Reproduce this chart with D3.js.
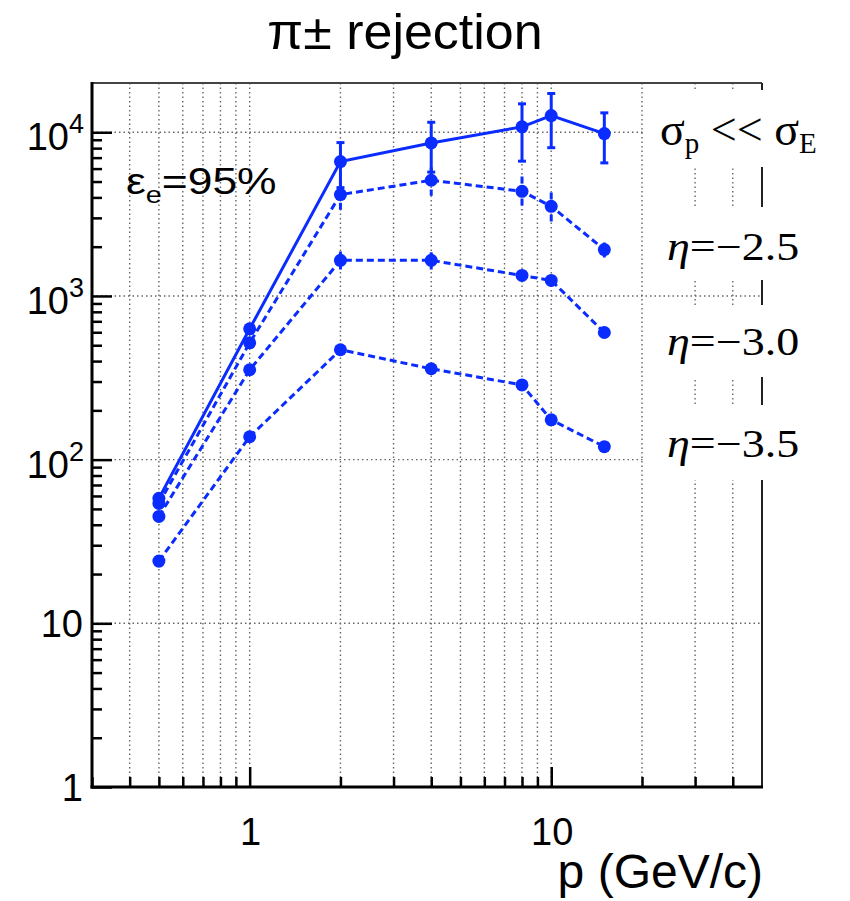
<!DOCTYPE html>
<html><head><meta charset="utf-8">
<script src="https://cdn.jsdelivr.net/npm/d3@7"></script>
<style>html,body{margin:0;padding:0;background:#fff;}svg{display:block;}</style>
</head><body>
<svg id="chart" width="850" height="901"></svg>
<script>
// ---- data ----
const momenta = [0.5, 1, 2, 4, 8, 10, 15];
const sigmaPValues = [58, 630, 6620, 8610, 10790, 12650, 9820];
const sigmaPErrors = [5, 40, 2030, 2900, 4130, 4600, 3320];
const eta25Values = [54, 517, 4160, 5090, 4360, 3530, 1920];
const eta25Errors = [4, 30, 900, 1000, 1000, 750, 200];
const eta30Values = [45, 354, 1650, 1650, 1334, 1244, 598];
const eta30Errors = [3, 20, 220, 200, 100, 100, 40];
const eta35Values = [24, 138, 469, 359, 286, 175, 120];
const eta35Errors = [2, 8, 30, 15, 15, 10, 8];
const xMajorTicks = [1, 10];
const xTickLabels = ["1", "10"];
const yMajorTicks = [1, 10, 100, 1000, 10000];
const yTickExponents = [null, null, 2, 3, 4];
const titleText = "π± rejection";
const xAxisTitle = "p (GeV/c)";
const effLabel = ["ε", "e", "=95%"];
const seriesLabels = ["η=−2.5", "η=−3.0", "η=−3.5"];

const blue = "#0a2cff";
const svg = d3.select("#chart");
const L = 92, R = 762, T = 83, B = 787;
const x = d3.scaleLog().domain([0.3, 50]).range([L, R]);
const y = d3.scaleLog().domain([1, 20000]).range([B, T]);

// minor tick values
const xMinor = [];
[0.1, 1, 10].forEach(d => { for (let k = 2; k <= 9; k++) { const v = d * k; if (v > 0.3 && v < 50) xMinor.push(v); } });
const yMinor = [];
[1, 10, 100, 1000, 10000].forEach(d => { for (let k = 2; k <= 9; k++) { const v = d * k; if (v < 20000) yMinor.push(v); } });

// grid
const grid = svg.append("g").attr("stroke", "#666").attr("stroke-width", 1.4).attr("stroke-dasharray", "1.5,3");
xMinor.concat(xMajorTicks).forEach(v => {
  grid.append("line").attr("x1", x(v)).attr("x2", x(v)).attr("y1", T).attr("y2", B);
});
yMajorTicks.slice(1).forEach(v => {
  grid.append("line").attr("x1", L).attr("x2", R).attr("y1", y(v)).attr("y2", y(v));
});

// frame top/right
svg.append("line").attr("x1", L).attr("x2", R).attr("y1", T).attr("y2", T).attr("stroke", "#444").attr("stroke-width", 2);
svg.append("line").attr("x1", R).attr("x2", R).attr("y1", T).attr("y2", B).attr("stroke", "#222").attr("stroke-width", 2);

// axes using d3 axes (ticks inside)
function styleAxis(g) { g.select(".domain").remove(); g.selectAll("text").remove(); g.selectAll("line").attr("stroke", "#000").attr("stroke-width", 2.5); }
svg.append("g").attr("transform", `translate(${L},0)`).call(d3.axisRight(y).tickValues(yMajorTicks).tickSize(20).tickFormat("")).call(styleAxis);
svg.append("g").attr("transform", `translate(${L},0)`).call(d3.axisRight(y).tickValues(yMinor).tickSize(10).tickFormat("")).call(styleAxis);
svg.append("g").attr("transform", `translate(0,${B})`).call(d3.axisTop(x).tickValues(xMajorTicks).tickSize(20).tickFormat("")).call(styleAxis);
svg.append("g").attr("transform", `translate(0,${B})`).call(d3.axisTop(x).tickValues(xMinor).tickSize(10).tickFormat("")).call(styleAxis);
svg.append("line").attr("x1", L).attr("x2", L).attr("y1", T - 1).attr("y2", B + 1.5).attr("stroke", "#000").attr("stroke-width", 3);
svg.append("line").attr("x1", L - 1.5).attr("x2", R + 1).attr("y1", B).attr("y2", B).attr("stroke", "#000").attr("stroke-width", 3);

// tick labels
const sans = "'Liberation Sans', Arial, sans-serif";
const serif = "'Liberation Serif', 'Times New Roman', serif";
yMajorTicks.forEach((v, i) => {
  const e = yTickExponents[i];
  if (e === null) {
    svg.append("text").attr("x", 83).attr("y", y(v) + 14).attr("text-anchor", "end")
      .attr("font-family", sans).attr("font-size", 38).text(v);
  } else {
    const t = svg.append("text").attr("x", 84).attr("y", y(v) + 18).attr("text-anchor", "end")
      .attr("font-family", sans).attr("font-size", 38);
    t.append("tspan").text("10");
    t.append("tspan").attr("font-size", 27).attr("dy", -17).text(e);
  }
});
xMajorTicks.forEach((v, i) => {
  svg.append("text").attr("x", x(v) + 1).attr("y", 845).attr("text-anchor", "middle")
    .attr("font-family", sans).attr("font-size", 38).text(xTickLabels[i]);
});
svg.append("text").attr("x", 763).attr("y", 888).attr("text-anchor", "end")
  .attr("font-family", sans).attr("font-size", 48).text(xAxisTitle);
svg.append("text").attr("transform", "translate(405,49) scale(1.04,1)").attr("text-anchor", "middle")
  .attr("font-family", sans).attr("font-size", 50).text(titleText);

// legend white boxes
const boxes = [[645, 90, 205, 77], [645, 207, 205, 73], [645, 305, 205, 72], [645, 405, 205, 75]];
boxes.forEach(b => svg.append("rect").attr("x", b[0]).attr("y", b[1]).attr("width", b[2]).attr("height", b[3]).attr("fill", "#fff"));

// series
const series = [
  { v: sigmaPValues, e: sigmaPErrors, dash: null, cap: true },
  { v: eta25Values, e: eta25Errors, dash: "7,4", cap: false },
  { v: eta30Values, e: eta30Errors, dash: "7,4", cap: false },
  { v: eta35Values, e: eta35Errors, dash: "7,4", cap: false },
];
const line = d3.line().x(d => x(d[0])).y(d => y(d[1]));
series.forEach(s => {
  const pts = momenta.map((p, i) => [p, s.v[i], s.e[i]]);
  const g = svg.append("g");
  g.append("path").datum(pts).attr("d", line).attr("fill", "none").attr("stroke", blue)
    .attr("stroke-width", 3).attr("stroke-dasharray", s.dash);
  pts.forEach(d => {
    g.append("line").attr("x1", x(d[0])).attr("x2", x(d[0])).attr("y1", y(d[1] + d[2])).attr("y2", y(Math.max(d[1] - d[2], 1)))
      .attr("stroke", blue).attr("stroke-width", 3).attr("stroke-dasharray", s.dash);
    if (s.cap && d[2] > d[1] * 0.1) {
      [d[1] + d[2], d[1] - d[2]].forEach(c => g.append("line").attr("x1", x(d[0]) - 4).attr("x2", x(d[0]) + 4)
        .attr("y1", y(c)).attr("y2", y(c)).attr("stroke", blue).attr("stroke-width", 3));
    }
  });
  g.selectAll("circle").data(pts).join("circle").attr("cx", d => x(d[0])).attr("cy", d => y(d[1]))
    .attr("r", 6.5).attr("fill", blue);
});

// annotations
const eff = svg.append("text").attr("transform", "translate(126,194) scale(1.2,1)")
  .attr("font-family", sans).attr("font-size", 37);
eff.append("tspan").text(effLabel[0]);
eff.append("tspan").attr("font-size", 24).attr("dy", 9).text(effLabel[1]);
eff.append("tspan").attr("dy", -9).text(effLabel[2]);

const sg = svg.append("text").attr("transform", "translate(660,145) scale(1.0,1)")
  .attr("font-family", serif).attr("font-size", 46);
sg.append("tspan").text("σ");
sg.append("tspan").attr("font-size", 29).attr("dy", 8).text("p");
sg.append("tspan").attr("dy", -8).text(" << σ");
sg.append("tspan").attr("font-size", 29).attr("dy", 8).text("E");

const etaY = [260, 355, 457];
seriesLabels.forEach((lab, i) => {
  const t = svg.append("text").attr("transform", `translate(667,${etaY[i]}) scale(1.15,1)`)
    .attr("font-family", serif).attr("font-size", 40);
  t.append("tspan").attr("font-style", "italic").text(lab[0]);
  t.append("tspan").text(lab.slice(1));
});
</script>
</body></html>
